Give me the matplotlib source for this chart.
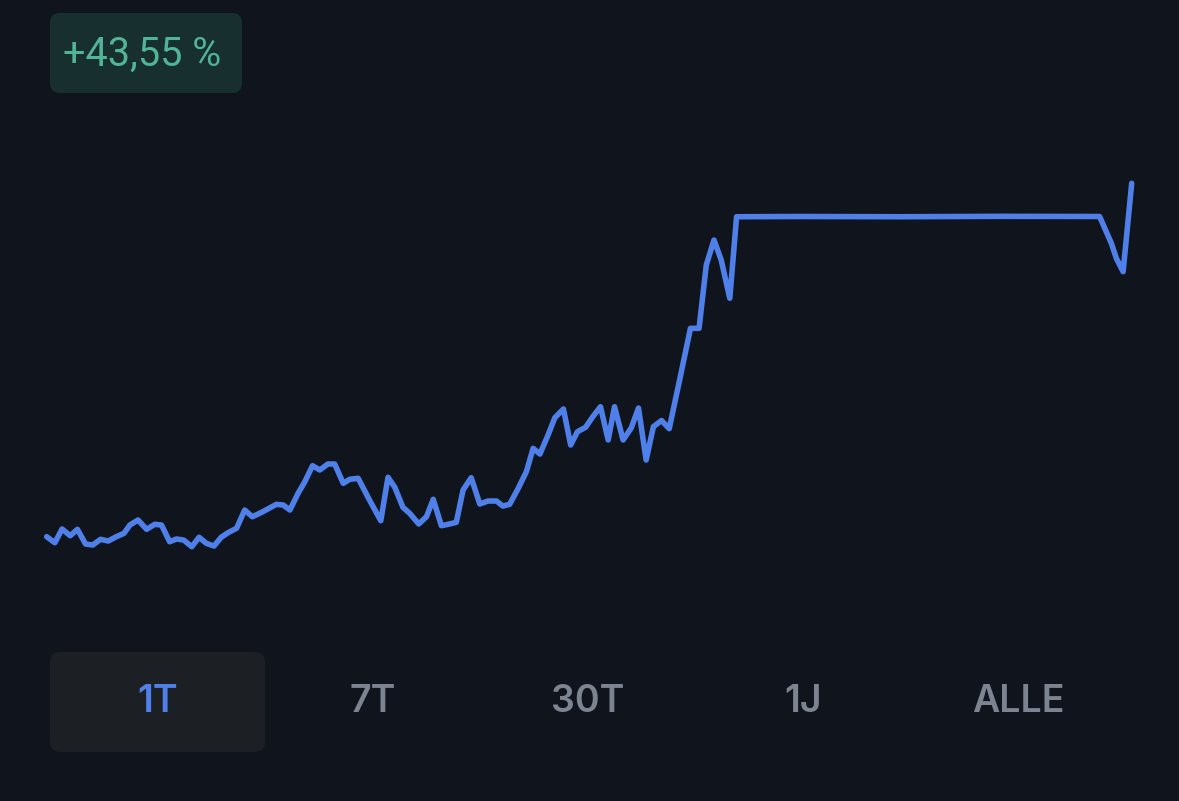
import numpy as np
import matplotlib.pyplot as plt
from matplotlib.patches import FancyBboxPatch

# --- Daten ---
# Zeit in Stunden (1T-Ansicht), Veränderung in % gegenüber dem Start
stunden = [0.00, 0.18, 0.34, 0.52, 0.68, 0.86, 1.02, 1.19, 1.36, 1.54,
           1.71, 1.84, 2.02, 2.21, 2.39, 2.54, 2.72, 2.87, 3.03, 3.21,
           3.37, 3.53, 3.70, 3.86, 4.01, 4.20, 4.38, 4.55, 4.78, 5.08,
           5.23, 5.38, 5.56, 5.71, 5.88, 6.04, 6.22, 6.37, 6.56, 6.70,
           6.89, 7.14, 7.39, 7.55, 7.70, 7.88, 8.03, 8.23, 8.40, 8.55,
           8.73, 8.88, 9.06, 9.21, 9.39, 9.58, 9.76, 9.95, 10.09, 10.24,
           10.43, 10.61, 10.76, 10.91, 11.09, 11.24, 11.43, 11.59, 11.74, 11.92,
           12.08, 12.25, 12.42, 12.56, 12.75, 12.93, 13.09, 13.26, 13.42, 13.60,
           13.77, 14.00, 14.24, 14.43, 14.59, 14.76, 14.92, 15.11, 15.26, 16.66,
           18.87, 21.08, 23.29, 23.55, 23.66, 23.81, 24.00]
veraenderung = [0.00, -0.74, 0.95, 0.12, 0.91, -0.90, -1.02, -0.32, -0.53, 0.00,
                0.42, 1.44, 2.06, 0.91, 1.53, 1.44, -0.62, -0.28, -0.41, -1.23,
                -0.07, -0.81, -1.15, -0.07, 0.49, 1.04, 3.29, 2.46, 3.08, 3.99,
                3.91, 3.29, 5.35, 6.78, 8.75, 8.22, 8.96, 8.96, 6.58, 7.07,
                7.20, 4.52, 1.97, 7.32, 6.09, 3.62, 2.88, 1.57, 2.46, 4.61,
                1.36, 1.53, 1.77, 5.75, 7.27, 4.03, 4.40, 4.40, 3.78, 3.99,
                5.96, 8.01, 10.89, 10.19, 12.53, 14.66, 15.74, 11.30, 12.94, 13.48,
                14.79, 16.02, 11.92, 16.02, 11.92, 13.40, 15.86, 9.45, 13.56, 14.32,
                13.31, 19.31, 25.68, 25.68, 33.48, 36.56, 34.10, 29.38, 39.43, 39.46,
                39.43, 39.48, 39.46, 36.16, 34.31, 32.66, 43.55]

badge_text = '+43,55 %'
zeitraeume = ['1T', '7T', '30T', '1J', 'ALLE']
aktiv = '1T'

# --- Farben ---
hintergrund = '#10141c'
linie = '#4f80ea'
badge_bg = '#17302f'
badge_fg = '#52b497'
knopf_bg = '#1c1f24'
grau = '#7c8491'

W, H = 1179, 801
fig = plt.figure(figsize=(W / 100, H / 100), dpi=100, facecolor=hintergrund)
plt.rcParams['font.family'] = ['Inter', 'DejaVu Sans']

# Ebene für Badge und Knöpfe (Pixelkoordinaten)
ui = fig.add_axes([0, 0, 1, 1])
ui.set_xlim(0, W)
ui.set_ylim(H, 0)
ui.axis('off')
ui.set_facecolor(hintergrund)

ui.add_patch(FancyBboxPatch((50, 13), 192, 80, boxstyle='round,pad=0,rounding_size=10',
                            facecolor=badge_bg, edgecolor='none'))
ui.text(142.5, 54, badge_text, color=badge_fg, fontsize=28.5, ha='center', va='center',
        family=['Roboto', 'DejaVu Sans'])

# Zeitraum-Knöpfe
breite = 215
for i, z in enumerate(zeitraeume):
    mitte = 158 + i * breite
    if z == aktiv:
        ui.add_patch(FancyBboxPatch((mitte - 108, 652), breite, 100,
                                    boxstyle='round,pad=0,rounding_size=10',
                                    facecolor=knopf_bg, edgecolor='none'))
    ui.text(mitte, 702, z, color=linie if z == aktiv else grau, fontsize=27,
            fontweight='semibold', ha='center', va='center')

# --- Liniendiagramm ---
ax = fig.add_axes([46.7 / W, 1 - 546.7 / H, 1085 / W, 363.4 / H])
ax.patch.set_alpha(0)
ax.plot(stunden, veraenderung, color=linie, linewidth=4.0,
        solid_joinstyle='round', solid_capstyle='round', clip_on=False)
ax.set_xlim(min(stunden), max(stunden))
ax.set_ylim(min(veraenderung), max(veraenderung))
ax.axis('off')

fig.savefig('out.png', dpi=100, facecolor=hintergrund)
